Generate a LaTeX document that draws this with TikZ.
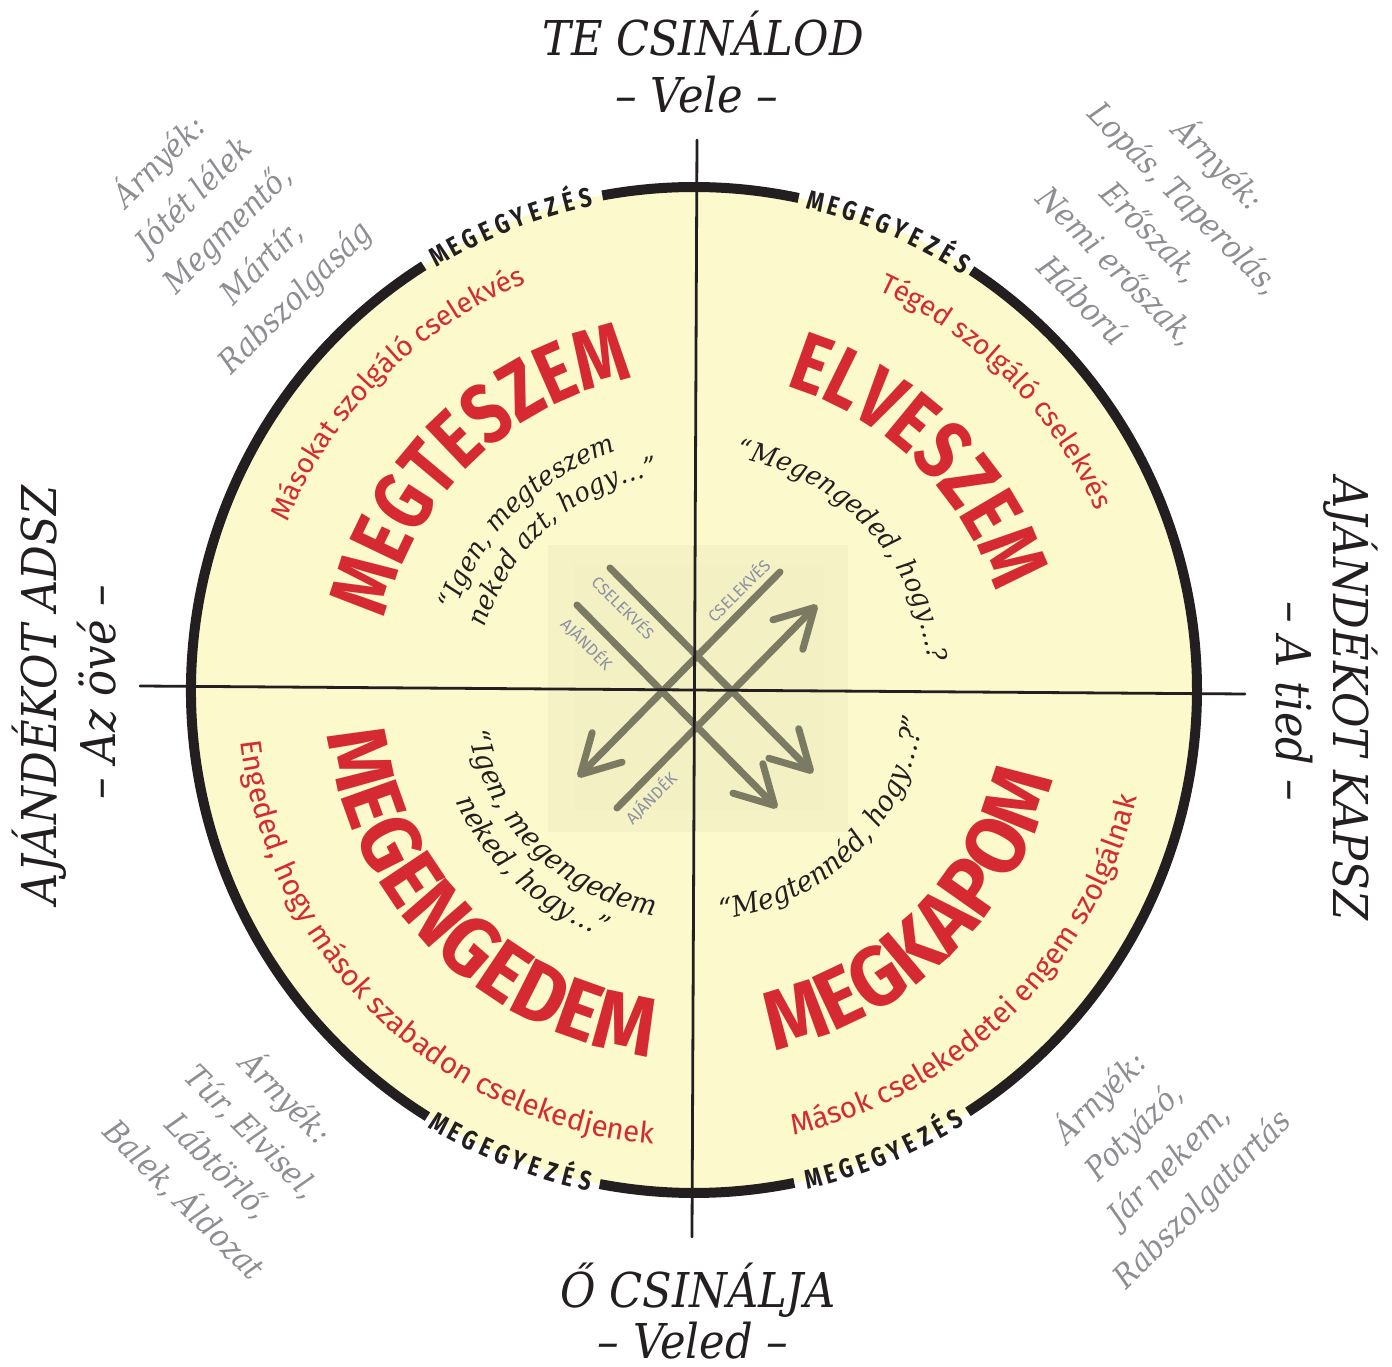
\documentclass[tikz,border=0pt]{standalone}
\usepackage{fontspec}
\usetikzlibrary{decorations.text,arrows.meta}
\newfontfamily\slabfont[FakeStretch=0.9]{DejaVu Serif}
\newfontfamily\quotfont[FakeStretch=0.95]{DejaVu Serif}
\newfontfamily\dinfont[FakeStretch=0.8]{Fira Sans}
\newfontfamily\dinwide[FakeStretch=0.93]{Fira Sans}
\newfontfamily\dinreg{Fira Sans}
\definecolor{ink}{HTML}{231F20}
\definecolor{disk}{HTML}{FCF9CC}
\definecolor{patch}{HTML}{F3F0C3}
\definecolor{redc}{HTML}{D62A32}
\definecolor{shadowc}{HTML}{8E8E92}
\definecolor{arrowc}{HTML}{7B7A63}
\definecolor{labc}{HTML}{8C91A3}
\newcommand{\TopArcText}[5]{\path[decorate,decoration={text along path,text align=center,text color=#4,text={|#3|#5}}] (#1+70:#2) arc[start angle=#1+70,end angle=#1-70,radius=#2];}
\newcommand{\BotArcText}[5]{\path[decorate,decoration={text along path,text align=center,text color=#4,text={|#3|#5}}] (#1-70:#2) arc[start angle=#1-70,end angle=#1+70,radius=#2];}
\newcommand{\MegTop}[3]{\foreach \ch [count=\i from 0] in {M,E,G,E,G,Y,E,Z,É,S}{\pgfmathsetmacro\mgang{#1-#2*\i}\node[megl,rotate=\mgang-90,anchor=base] (#3\i) at (\mgang:494.5) {\ch};}}
\newcommand{\MegBot}[3]{\foreach \ch [count=\i from 0] in {M,E,G,E,G,Y,E,Z,É,S}{\pgfmathsetmacro\mgang{#1+#2*\i}\node[megl,rotate=\mgang+90,anchor=base] (#3\i) at (\mgang:512) {\ch};}}
\newcommand{\bigf}{\dinfont\bfseries\fontsize{84}{84}\selectfont}
\newcommand{\bigfb}{\dinwide\bfseries\fontsize{84}{84}\selectfont}
\newcommand{\subf}{\dinreg\fontsize{28}{28}\selectfont}
\newcommand{\subfb}{\dinreg\fontsize{29.5}{29.5}\selectfont}
\newcommand{\quotf}{\quotfont\itshape\fontsize{27}{27}\selectfont}
\newcommand{\quotfb}{\quotfont\itshape\fontsize{28.5}{28.5}\selectfont}
\tikzset{
  ring/.style={draw=ink,line width=10pt},
  axisline/.style={draw=ink,line width=2.8pt,line cap=round},
  arr/.style={draw=arrowc,line width=7pt,line cap=round,-{Straight Barb[length=38pt,width=42pt,round]}},
  smalllab/.style={font=\dinreg\fontsize{16.5}{16.5}\selectfont,text=labc,inner sep=0pt},
  megl/.style={font=\dinfont\bfseries\fontsize{27}{27}\selectfont,text=ink,inner sep=0pt},
  outertxt/.style={font=\slabfont\itshape\fontsize{48}{48}\selectfont,text=ink,inner sep=0pt},
  shadetxt/.style={font=\slabfont\itshape\fontsize{32}{48}\selectfont,text=shadowc,align=center,inner sep=0pt}
}
\begin{document}
\begin{tikzpicture}[x=1pt,y=1pt]
\useasboundingbox (-694,-677) rectangle (698,690);
\fill[white] (-694,-677) rectangle (698,690);
\coordinate (C) at (0,0);
\fill[disk] (C) circle[radius=503];
\fill[patch,opacity=0.7] (-146,145) rectangle (154,-142);
\fill[patch,opacity=0.5] (-120,125) rectangle (130,-120);
% arrows
\coordinate (aS) at (-84,122); \coordinate (aT) at (119,-83);
\coordinate (bS) at (-117,85); \coordinate (bT) at (83,-118);
\coordinate (cS) at (86,118); \coordinate (cT) at (-116,-87);
\coordinate (dS) at (-77,-118); \coordinate (dT) at (123,85);
\draw[arr] (aS) -- (aT);
\draw[arr] (bS) -- (bT);
\draw[arr] (cS) -- (cT);
\draw[arr] (dS) -- (dT);
\node[smalllab,rotate=-45] (lA) at (-70,83) {CSELEKVÉS};
\node[smalllab,rotate=-45] (lB) at (-107,46) {AJÁNDÉK};
\node[smalllab,rotate=45] (lC) at (44,100) {CSELEKVÉS};
\node[smalllab,rotate=45] (lD) at (-43,-108) {AJÁNDÉK};
% axes
\coordinate (vT) at (3,550); \coordinate (vB) at (-2,-547);
\coordinate (hL) at (-554,4); \coordinate (hR) at (551,-4);
\draw[axisline] (vT) -- (vB);
\draw[axisline] (hL) -- (hR);
% ring
\draw[ring] (-57:503) arc[start angle=-57,end angle=56.5,radius=503];
\draw[ring] (78:503) arc[start angle=78,end angle=100.5,radius=503];
\draw[ring] (122.5:503) arc[start angle=122.5,end angle=238,radius=503];
\draw[ring] (259.2:503) arc[start angle=259.2,end angle=281.5,radius=503];
\MegTop{120.4}{2.0}{mTL}
\MegTop{76.0}{2.02}{mTR}
\MegBot{-120.4}{1.99}{mBL}
\MegBot{-76.2}{1.94}{mBR}
% big words
\TopArcText{134}{317}{\bigf}{redc}{MEGTESZEM}
\TopArcText{45.6}{317}{\bigf}{redc}{ELVESZEM}
\BotArcText{-135}{369}{\bigfb}{redc}{MEGENGEDEM}
\BotArcText{-45.6}{369}{\bigfb}{redc}{MEGKAPOM}
% subtitles
\TopArcText{135}{440}{\subf}{redc}{Másokat szolgáló cselekvés}
\TopArcText{44.6}{440}{\subf}{redc}{Téged szolgáló cselekvés}
\BotArcText{-134.3}{456}{\subfb}{redc}{Engeded, hogy mások szabadon cselekedjenek}
\BotArcText{-45.5}{456}{\subfb}{redc}{Mások cselekedetei engem szolgálnak}
% quotes
\TopArcText{134.8}{251}{\quotf}{ink}{“Igen, megteszem}
\TopArcText{131.4}{218}{\quotf}{ink}{neked azt, hogy…”}
\TopArcText{43.2}{236}{\quotf}{ink}{“Megengeded, hogy…?}
\BotArcText{-134.5}{229}{\quotfb}{ink}{“Igen, megengedem}
\BotArcText{-132.3}{263}{\quotfb}{ink}{neked, hogy…”}
\BotArcText{-45}{231}{\quotfb}{ink}{“Megtennéd, hogy…?”}
% outer labels
\node[outertxt,anchor=base] (top1) at (9,634) {TE CSINÁLOD};
\node[outertxt,anchor=base] (top2) at (3,577) {– Vele –};
\node[outertxt,anchor=base] (bot1) at (4,-617) {Ő CSINÁLJA};
\node[outertxt,anchor=base] (bot2) at (-1,-668) {– Veled –};
\node[outertxt,anchor=base,rotate=90] (left1) at (-637,-5) {AJÁNDÉKOT ADSZ};
\node[outertxt,anchor=base,rotate=90] (left2) at (-578,-2) {– Az övé –};
\node[outertxt,anchor=base,rotate=-90] (right1) at (639,-9) {AJÁNDÉKOT KAPSZ};
\node[outertxt,anchor=base,rotate=-90] (right2) at (582,-11) {– A tied –};
% shadows
\node[shadetxt,rotate=45] (sTL) at (-467,461) {Árnyék:\\Jótét lélek\\Megmentő,\\Mártír,\\Rabszolgaság};
\node[shadetxt,rotate=-45] (sTR) at (459,460) {Árnyék:\\Lopás, Taperolás,\\Erőszak,\\Nemi erőszak,\\Háború};
\node[shadetxt,rotate=-45] (sBL) at (-458,-458) {Árnyék:\\Túr, Elvisel,\\Lábtörlő,\\Balek, Áldozat};
\node[shadetxt,rotate=45] (sBR) at (457,-458) {Árnyék:\\Potyázó,\\Jár nekem,\\Rabszolgatartás};
\end{tikzpicture}
\end{document}
